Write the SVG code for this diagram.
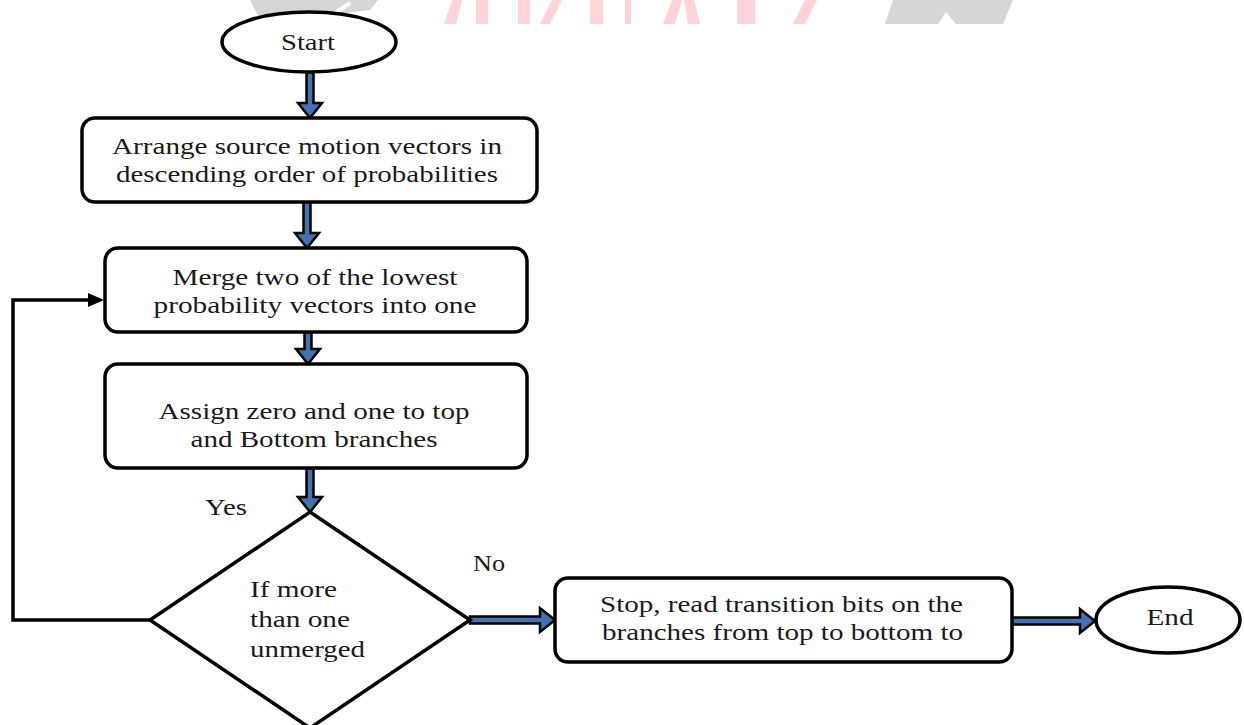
<svg xmlns="http://www.w3.org/2000/svg" width="1244" height="725" viewBox="0 0 1244 725">
<style>
.bx{fill:#fff;stroke:#000;stroke-width:3.5}
.t{font-family:"Liberation Serif","Times New Roman",serif;font-size:24px;fill:#1a1a1a}
.arr{fill:#4472b0;stroke:#000;stroke-width:2.5;stroke-linejoin:miter}
.ln{fill:none;stroke:#000;stroke-width:3.5}
.wg{fill:#d6d6d6}
.wp{fill:#ffd3d7}
</style>
<rect width="1244" height="725" fill="#fff"/>
<g id="watermark">
<polygon class="wg" points="250,0 378,0 370,10 262,24"/>
<line x1="350" y1="3" x2="328" y2="18" stroke="#fff" stroke-width="4"/>
<polygon class="wg" points="893,0 1013,0 1003,24 885,24"/>
<polygon fill="#fff" points="938,24 946,12 956,24"/>
<polygon class="wp" points="452,0 462,0 456,24 444,24"/>
<rect class="wp" x="476" y="0" width="12" height="24"/>
<rect class="wp" x="518" y="0" width="12" height="24"/>
<polygon class="wp" points="552,0 562,0 550,24 540,24"/>
<rect class="wp" x="590" y="0" width="13" height="24"/>
<rect class="wp" x="625" y="0" width="6" height="24"/>
<polygon class="wp" points="672,0 682,0 675,24 663,24"/>
<polygon class="wp" points="684,0 694,0 700,24 688,24"/>
<rect class="wp" x="737" y="0" width="18" height="24"/>
<polygon class="wp" points="805,0 817,0 805,24 793,24"/>
</g>
<g id="connectors">
<path class="arr" d="M306.5,72 L313.5,72 L313.5,103 L322,103 L310,118 L298,103 L306.5,103 Z"/>
<path class="arr" d="M303.5,202 L310.5,202 L310.5,233 L319,233 L307,248 L295,233 L303.5,233 Z"/>
<path class="arr" d="M304.5,332 L311.5,332 L311.5,349 L320,349 L308,364 L296,349 L304.5,349 Z"/>
<path class="arr" d="M306.5,468 L313.5,468 L313.5,497 L322,497 L310,512 L298,497 L306.5,497 Z"/>
<path class="arr" d="M470,616.5 L540,616.5 L540,608 L555,620 L540,632 L540,623.5 L470,623.5 Z"/>
<path class="arr" d="M1012,617.5 L1080,617.5 L1080,609 L1095,621 L1080,633 L1080,624.5 L1012,624.5 Z"/>
<polyline class="ln" points="150,620 13,620 13,300 90,300"/>
<polygon points="88,293 104,300 88,307" fill="#000"/>
</g>
<g id="start">
<ellipse class="bx" cx="309" cy="42" rx="87" ry="30"/>
<text class="t" x="308" y="50" text-anchor="middle" textLength="54" lengthAdjust="spacingAndGlyphs">Start</text>
</g>
<g id="arrange">
<rect class="bx" x="82" y="118" width="455" height="84" rx="13"/>
<text class="t" x="307" y="154" text-anchor="middle" textLength="390" lengthAdjust="spacingAndGlyphs">Arrange source motion vectors in</text>
<text class="t" x="307" y="182" text-anchor="middle" textLength="382" lengthAdjust="spacingAndGlyphs">descending order of probabilities</text>
</g>
<g id="merge">
<rect class="bx" x="105" y="248" width="422" height="84" rx="13"/>
<text class="t" x="315" y="285" text-anchor="middle" textLength="285" lengthAdjust="spacingAndGlyphs">Merge two of the lowest</text>
<text class="t" x="315" y="313" text-anchor="middle" textLength="323" lengthAdjust="spacingAndGlyphs">probability vectors into one</text>
</g>
<g id="assign">
<rect class="bx" x="105" y="364" width="422" height="104" rx="13"/>
<text class="t" x="314" y="419" text-anchor="middle" textLength="311" lengthAdjust="spacingAndGlyphs">Assign zero and one to top</text>
<text class="t" x="314" y="447" text-anchor="middle" textLength="247" lengthAdjust="spacingAndGlyphs">and Bottom branches</text>
</g>
<g id="decision">
<polygon class="bx" points="310,512 470,620 310,728 150,620"/>
<text class="t" x="250" y="597" textLength="87" lengthAdjust="spacingAndGlyphs">If more</text>
<text class="t" x="250" y="627" textLength="100" lengthAdjust="spacingAndGlyphs">than one</text>
<text class="t" x="250" y="657" textLength="115" lengthAdjust="spacingAndGlyphs">unmerged</text>
</g>
<g id="labels">
<text class="t" x="205" y="515" textLength="42" lengthAdjust="spacingAndGlyphs">Yes</text>
<text class="t" x="473" y="571" textLength="32" lengthAdjust="spacingAndGlyphs">No</text>
</g>
<g id="stop">
<rect class="bx" x="555" y="578" width="457" height="84" rx="13"/>
<text class="t" x="600" y="612" textLength="363" lengthAdjust="spacingAndGlyphs">Stop, read transition bits on the</text>
<text class="t" x="602" y="640" textLength="361" lengthAdjust="spacingAndGlyphs">branches from top to bottom to</text>
</g>
<g id="end">
<ellipse class="bx" cx="1168" cy="620" rx="72" ry="33"/>
<text class="t" x="1170" y="625" text-anchor="middle" textLength="47" lengthAdjust="spacingAndGlyphs">End</text>
</g>
</svg>
